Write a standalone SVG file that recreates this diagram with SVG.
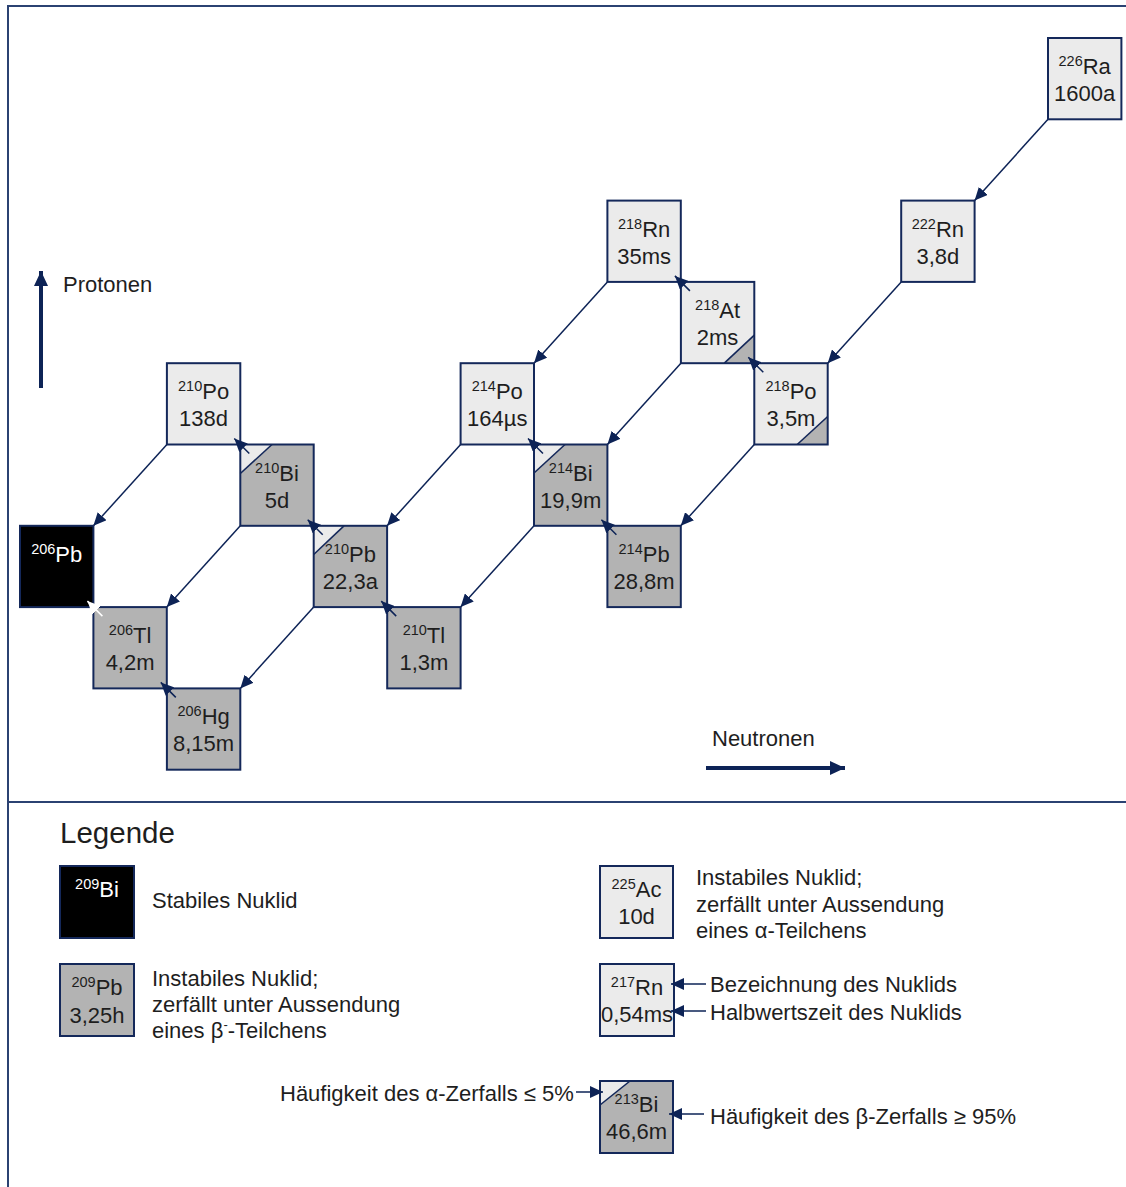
<svg xmlns="http://www.w3.org/2000/svg" width="1126" height="1187" viewBox="0 0 1126 1187">
  <style>
    text { font-family: "Liberation Sans", Arial, sans-serif; fill: #1e1e1e; }
    .lbl { font-size: 22px; text-anchor: middle; }
    .sup { font-size: 14.5px; }
    .leg { font-size: 22px; }
    .box { stroke: #14285a; stroke-width: 2; }
    .light { fill: #ebebeb; }
    .gray { fill: #b3b3b3; }
    .stable { fill: #000000; }
    .diag { stroke: #14285a; stroke-width: 1.6; }
    .alpha { stroke: #0d2356; stroke-width: 1.5; fill: none; marker-end: url(#head); }
    .beta { stroke: #0d2356; stroke-width: 1.5; fill: none; marker-end: url(#head); }
    .betaw { stroke: #ffffff; stroke-width: 1.5; fill: none; marker-end: url(#headw); }
    .frame { stroke: #2b4272; stroke-width: 2; fill: none; }
  </style>
  <defs>
    <marker id="head" markerUnits="userSpaceOnUse" markerWidth="14" markerHeight="12" refX="13" refY="6" orient="auto">
      <path d="M0,0 L13,6 L0,12 Z" fill="#0d2356"/>
    </marker>
    <marker id="headw" markerUnits="userSpaceOnUse" markerWidth="14" markerHeight="12" refX="13" refY="6" orient="auto">
      <path d="M0,0 L13,6 L0,12 Z" fill="#ffffff"/>
    </marker>
    <marker id="axis" markerUnits="userSpaceOnUse" markerWidth="16" markerHeight="14" refX="15" refY="7" orient="auto">
      <path d="M0,0 L15,7 L0,14 Z" fill="#0d2356"/>
    </marker>
  </defs>

  <rect width="1126" height="1187" fill="#ffffff"/>

  <!-- frame: chart panel and legend panel -->
  <g id="frame">
    <path class="frame" d="M1128,6 H8 V1190"/>
    <path class="frame" d="M8,802 H1128"/>
  </g>

  <!-- axis indicators -->
  <g id="axes">
    <line x1="41" y1="388" x2="41" y2="271" stroke="#0d2356" stroke-width="4" marker-end="url(#axis)"/>
    <text class="leg" x="63" y="292">Protonen</text>
    <line x1="706" y1="768" x2="845" y2="768" stroke="#0d2356" stroke-width="4" marker-end="url(#axis)"/>
    <text class="leg" x="712" y="746">Neutronen</text>
  </g>

  <!-- decay connectors -->
  <g id="connectors">
    <!-- alpha decays -->
    <line class="alpha" x1="1048" y1="119.3" x2="974.6" y2="200.6"/>
    <line class="alpha" x1="901.2" y1="281.9" x2="827.7" y2="363.2"/>
    <line class="alpha" x1="754.3" y1="444.5" x2="680.8" y2="525.8"/>
    <line class="alpha" x1="680.9" y1="363.2" x2="607.4" y2="444.5"/>
    <line class="alpha" x1="607.4" y1="281.9" x2="534" y2="363.2"/>
    <line class="alpha" x1="460.6" y1="444.5" x2="387.1" y2="525.8"/>
    <line class="alpha" x1="534" y1="525.8" x2="460.6" y2="607.1"/>
    <line class="alpha" x1="313.7" y1="607.1" x2="240.3" y2="688.4"/>
    <line class="alpha" x1="240.3" y1="525.8" x2="166.8" y2="607.1"/>
    <line class="alpha" x1="166.9" y1="444.5" x2="93.4" y2="525.8"/>
  </g>

  <!-- nuclides -->
  <g id="ra226">
    <rect class="box light" x="1048" y="38" width="73.4" height="81.3"/>
    <text class="lbl" x="1084.7" y="74"><tspan class="sup" dy="-8">226</tspan><tspan dy="8">Ra</tspan></text>
    <text class="lbl" x="1084.7" y="101">1600a</text>
  </g>
  <g id="rn222">
    <rect class="box light" x="901.2" y="200.6" width="73.4" height="81.3"/>
    <text class="lbl" x="937.9" y="236.6"><tspan class="sup" dy="-8">222</tspan><tspan dy="8">Rn</tspan></text>
    <text class="lbl" x="937.9" y="263.6">3,8d</text>
  </g>
  <g id="rn218">
    <rect class="box light" x="607.4" y="200.6" width="73.4" height="81.3"/>
    <text class="lbl" x="644.1" y="236.6"><tspan class="sup" dy="-8">218</tspan><tspan dy="8">Rn</tspan></text>
    <text class="lbl" x="644.1" y="263.6">35ms</text>
  </g>
  <g id="at218">
    <rect class="light" x="680.9" y="281.9" width="73.4" height="81.3"/>
    <polygon class="gray" points="724.3,363.2 754.3,335.2 754.3,363.2"/>
    <line class="diag" x1="724.3" y1="363.2" x2="754.3" y2="335.2"/>
    <rect class="box" fill="none" x="680.9" y="281.9" width="73.4" height="81.3"/>
    <text class="lbl" x="717.6" y="317.9"><tspan class="sup" dy="-8">218</tspan><tspan dy="8">At</tspan></text>
    <text class="lbl" x="717.6" y="344.9">2ms</text>
  </g>
  <g id="po218">
    <rect class="light" x="754.3" y="363.2" width="73.4" height="81.3"/>
    <polygon class="gray" points="797.2,444.5 827.7,416.5 827.7,444.5"/>
    <line class="diag" x1="797.2" y1="444.5" x2="827.7" y2="416.5"/>
    <rect class="box" fill="none" x="754.3" y="363.2" width="73.4" height="81.3"/>
    <text class="lbl" x="791" y="399.2"><tspan class="sup" dy="-8">218</tspan><tspan dy="8">Po</tspan></text>
    <text class="lbl" x="791" y="426.2">3,5m</text>
  </g>
  <g id="po214">
    <rect class="box light" x="460.6" y="363.2" width="73.4" height="81.3"/>
    <text class="lbl" x="497.3" y="399.2"><tspan class="sup" dy="-8">214</tspan><tspan dy="8">Po</tspan></text>
    <text class="lbl" x="497.3" y="426.2">164µs</text>
  </g>
  <g id="bi214">
    <rect class="gray" x="534" y="444.5" width="73.4" height="81.3"/>
    <polygon class="light" points="534,444.5 565,444.5 534,473"/>
    <line class="diag" x1="565" y1="444.5" x2="534" y2="473"/>
    <rect class="box" fill="none" x="534" y="444.5" width="73.4" height="81.3"/>
    <text class="lbl" x="570.7" y="480.5"><tspan class="sup" dy="-8">214</tspan><tspan dy="8">Bi</tspan></text>
    <text class="lbl" x="570.7" y="507.5">19,9m</text>
  </g>
  <g id="pb214">
    <rect class="box gray" x="607.4" y="525.8" width="73.4" height="81.3"/>
    <text class="lbl" x="644.1" y="561.8"><tspan class="sup" dy="-8">214</tspan><tspan dy="8">Pb</tspan></text>
    <text class="lbl" x="644.1" y="588.8">28,8m</text>
  </g>
  <g id="po210">
    <rect class="box light" x="166.9" y="363.2" width="73.4" height="81.3"/>
    <text class="lbl" x="203.6" y="399.2"><tspan class="sup" dy="-8">210</tspan><tspan dy="8">Po</tspan></text>
    <text class="lbl" x="203.6" y="426.2">138d</text>
  </g>
  <g id="bi210">
    <rect class="gray" x="240.3" y="444.5" width="73.4" height="81.3"/>
    <polygon class="light" points="240.3,444.5 272,444.5 240.3,473.5"/>
    <line class="diag" x1="272" y1="444.5" x2="240.3" y2="473.5"/>
    <rect class="box" fill="none" x="240.3" y="444.5" width="73.4" height="81.3"/>
    <text class="lbl" x="277" y="480.5"><tspan class="sup" dy="-8">210</tspan><tspan dy="8">Bi</tspan></text>
    <text class="lbl" x="277" y="507.5">5d</text>
  </g>
  <g id="pb210">
    <rect class="gray" x="313.7" y="525.8" width="73.4" height="81.3"/>
    <polygon class="light" points="313.7,525.8 344,525.8 313.7,554.5"/>
    <line class="diag" x1="344" y1="525.8" x2="313.7" y2="554.5"/>
    <rect class="box" fill="none" x="313.7" y="525.8" width="73.4" height="81.3"/>
    <text class="lbl" x="350.4" y="561.8"><tspan class="sup" dy="-8">210</tspan><tspan dy="8">Pb</tspan></text>
    <text class="lbl" x="350.4" y="588.8">22,3a</text>
  </g>
  <g id="tl210">
    <rect class="box gray" x="387.2" y="607.1" width="73.4" height="81.3"/>
    <text class="lbl" x="423.9" y="643.1"><tspan class="sup" dy="-8">210</tspan><tspan dy="8">Tl</tspan></text>
    <text class="lbl" x="423.9" y="670.1">1,3m</text>
  </g>
  <g id="pb206">
    <rect class="box stable" x="20" y="525.8" width="73.4" height="81.3"/>
    <text class="lbl" x="56.7" y="561.8" style="fill:#ffffff"><tspan class="sup" dy="-8">206</tspan><tspan dy="8">Pb</tspan></text>
  </g>
  <g id="tl206">
    <rect class="box gray" x="93.4" y="607.1" width="73.4" height="81.3"/>
    <text class="lbl" x="130.1" y="643.1"><tspan class="sup" dy="-8">206</tspan><tspan dy="8">Tl</tspan></text>
    <text class="lbl" x="130.1" y="670.1">4,2m</text>
  </g>
  <g id="hg206">
    <rect class="box gray" x="166.9" y="688.4" width="73.4" height="81.3"/>
    <text class="lbl" x="203.6" y="724.4"><tspan class="sup" dy="-8">206</tspan><tspan dy="8">Hg</tspan></text>
    <text class="lbl" x="203.6" y="751.4">8,15m</text>
  </g>

  <!-- beta decays (drawn over the boxes) -->
  <g id="beta-connectors">
    <line class="beta" x1="763.3" y1="372.2" x2="748.3" y2="357.2"/>
    <line class="beta" x1="689.9" y1="290.9" x2="674.9" y2="275.9"/>
    <line class="beta" x1="616.4" y1="534.8" x2="601.4" y2="519.8"/>
    <line class="beta" x1="543" y1="453.5" x2="528" y2="438.5"/>
    <line class="beta" x1="396.2" y1="616.1" x2="381.2" y2="601.1"/>
    <line class="beta" x1="322.7" y1="534.8" x2="307.7" y2="519.8"/>
    <line class="beta" x1="249.3" y1="453.5" x2="234.3" y2="438.5"/>
    <line class="beta" x1="175.8" y1="697.4" x2="160.8" y2="682.4"/>
    <line class="betaw" x1="102.4" y1="616.1" x2="87.4" y2="601.1"/>
  </g>

  <!-- legend -->
  <g id="legend">
    <text x="60" y="843" style="font-size:29.5px">Legende</text>

    <g id="legend-stable">
      <rect class="box stable" x="60" y="866" width="74" height="72"/>
      <text class="lbl" x="97" y="897" style="fill:#ffffff"><tspan class="sup" dy="-8">209</tspan><tspan dy="8">Bi</tspan></text>
      <text class="leg" x="152" y="908">Stabiles Nuklid</text>
    </g>

    <g id="legend-beta">
      <rect class="box gray" x="60" y="964" width="74" height="72"/>
      <text class="lbl" x="97" y="995"><tspan class="sup" dy="-8">209</tspan><tspan dy="8">Pb</tspan></text>
      <text class="lbl" x="97" y="1023">3,25h</text>
      <text class="leg" x="152" y="986">Instabiles Nuklid;</text>
      <text class="leg" x="152" y="1012">zerfällt unter Aussendung</text>
      <text class="leg" x="152" y="1038">eines β<tspan style="font-size:13px" dy="-9">-</tspan><tspan dy="9">-Teilchens</tspan></text>
    </g>

    <g id="legend-alpha">
      <rect class="box light" x="600" y="866" width="73" height="72"/>
      <text class="lbl" x="636.5" y="897"><tspan class="sup" dy="-8">225</tspan><tspan dy="8">Ac</tspan></text>
      <text class="lbl" x="636.5" y="924">10d</text>
      <text class="leg" x="696" y="885">Instabiles Nuklid;</text>
      <text class="leg" x="696" y="912">zerfällt unter Aussendung</text>
      <text class="leg" x="696" y="938">eines α-Teilchens</text>
    </g>

    <g id="legend-labels">
      <rect class="box light" x="600" y="964" width="74" height="72"/>
      <text class="lbl" x="637" y="995"><tspan class="sup" dy="-8">217</tspan><tspan dy="8">Rn</tspan></text>
      <text class="lbl" x="637" y="1022">0,54ms</text>
      <line class="beta" x1="706" y1="984" x2="671" y2="984"/>
      <line class="beta" x1="706" y1="1011" x2="671" y2="1011"/>
      <text class="leg" x="710" y="992">Bezeichnung des Nuklids</text>
      <text class="leg" x="710" y="1020">Halbwertszeit des Nuklids</text>
    </g>

    <g id="legend-branch">
      <rect class="gray" x="600" y="1081" width="73" height="72"/>
      <polygon class="light" points="600,1081 630,1081 600,1105"/>
      <line class="diag" x1="630" y1="1081" x2="600" y2="1105"/>
      <rect class="box" fill="none" x="600" y="1081" width="73" height="72"/>
      <text class="lbl" x="636.5" y="1112"><tspan class="sup" dy="-8">213</tspan><tspan dy="8">Bi</tspan></text>
      <text class="lbl" x="636.5" y="1139">46,6m</text>
      <line class="beta" x1="576" y1="1092" x2="603" y2="1092"/>
      <text class="leg" x="280" y="1101">Häufigkeit des α-Zerfalls ≤ 5%</text>
      <line class="beta" x1="704" y1="1114" x2="669" y2="1114"/>
      <text class="leg" x="710" y="1124">Häufigkeit des β-Zerfalls ≥ 95%</text>
    </g>
  </g>
</svg>
